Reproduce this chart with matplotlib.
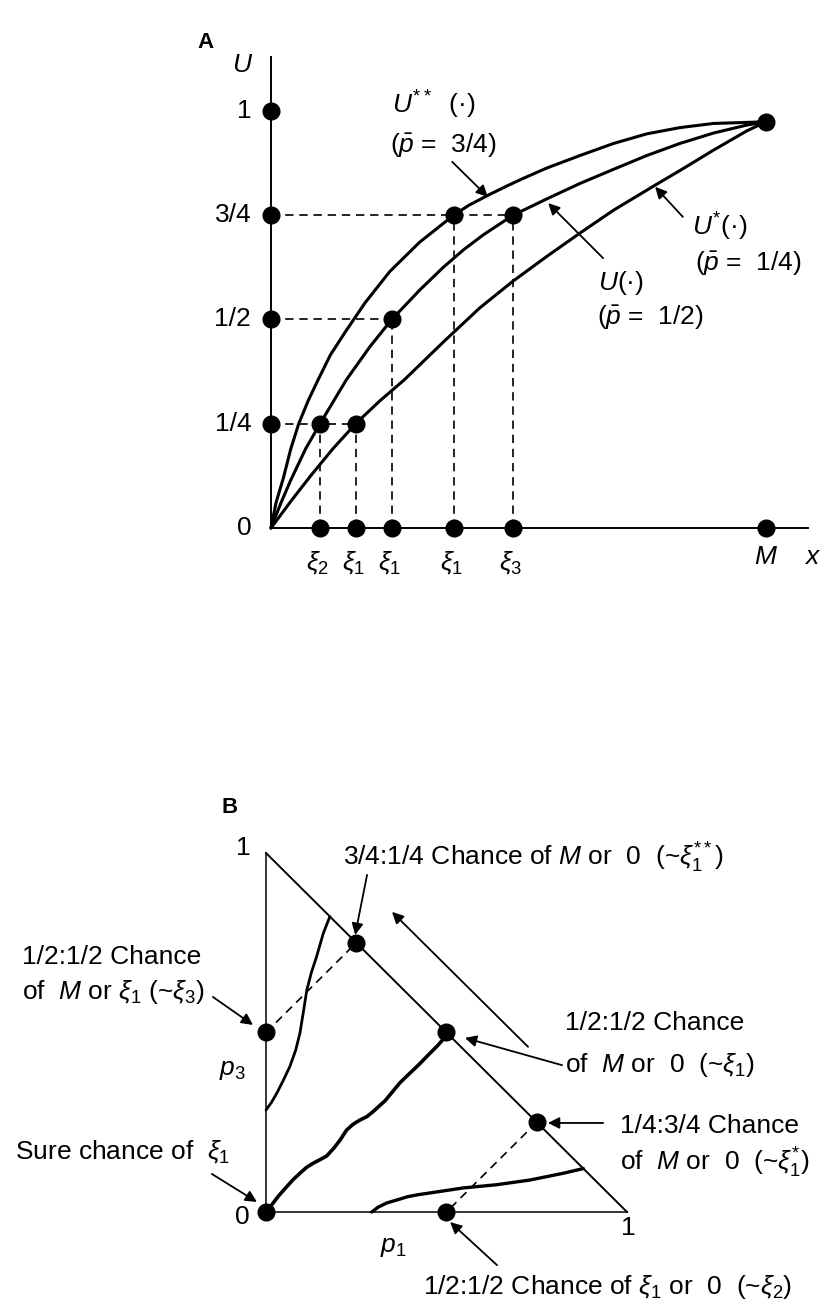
import numpy as np
import matplotlib.pyplot as plt

plt.rcParams['font.family'] = ['Liberation Sans', 'DejaVu Sans']
plt.rcParams['mathtext.fontset'] = 'custom'
plt.rcParams['mathtext.rm'] = 'Liberation Sans'
plt.rcParams['mathtext.it'] = 'Liberation Sans:italic'

# ---- panel A: utility curves, x in units of M ----
u_top_x = [0, 0.01, 0.025, 0.04, 0.056, 0.075, 0.095, 0.12, 0.15, 0.19, 0.24, 0.30, 0.369, 0.40, 0.442, 0.48, 0.509,
           0.557, 0.624, 0.692, 0.759, 0.826, 0.894, 1.0]
u_top_y = [0, 0.06, 0.12, 0.19, 0.25, 0.305, 0.355, 0.415, 0.47, 0.54, 0.615, 0.685, 0.75, 0.774, 0.80, 0.822, 0.838,
           0.863, 0.893, 0.922, 0.945, 0.96, 0.97, 0.974]

u_mid_x = [0, 0.02, 0.04, 0.07, 0.099, 0.152, 0.2, 0.244, 0.3, 0.348, 0.39, 0.429, 0.489, 0.557, 0.624, 0.692, 0.759,
           0.826, 0.894, 0.961, 1.0]
u_mid_y = [0, 0.06, 0.115, 0.19, 0.25, 0.355, 0.435, 0.5, 0.57, 0.625, 0.668, 0.703, 0.75, 0.789, 0.826, 0.86, 0.893,
           0.922, 0.947, 0.966, 0.974]

u_low_x = [0, 0.04, 0.08, 0.125, 0.171, 0.22, 0.269, 0.35, 0.422, 0.489, 0.557, 0.624, 0.692, 0.776, 0.826, 0.894,
           0.961, 1.0]
u_low_y = [0, 0.064, 0.125, 0.19, 0.25, 0.305, 0.355, 0.448, 0.528, 0.592, 0.651, 0.707, 0.762, 0.822, 0.857, 0.906,
           0.952, 0.974]

u_levels = [0.25, 0.5, 0.75, 1.0]
u_level_labels = ['1/4', '1/2', '3/4', '1']
# certainty equivalents: (x, U)
ce_x = [0.099, 0.171, 0.244, 0.369, 0.489]
ce_u = [0.25, 0.25, 0.5, 0.75, 0.75]
ce_labels = [r'$\xi_2$', r'$\xi_1$', r'$\xi_1$', r'$\xi_1$', r'$\xi_3$']
M_x, M_u = 1.0, 0.974

# ---- panel B: probability triangle (p1, p3) ----
ic_left_p1 = [0, 0.015, 0.03, 0.048, 0.066, 0.082, 0.094, 0.104, 0.113, 0.126, 0.14, 0.159, 0.177]
ic_left_p3 = [0.284, 0.305, 0.331, 0.367, 0.405, 0.45, 0.498, 0.56, 0.618, 0.668, 0.711, 0.777, 0.823]

ic_mid_p1 = [0, 0.016, 0.035, 0.057, 0.075, 0.094, 0.112, 0.131, 0.15, 0.168, 0.188, 0.205, 0.223, 0.242, 0.26,
             0.28, 0.297, 0.33, 0.371, 0.4, 0.427, 0.452, 0.473, 0.49, 0.5]
ic_mid_p3 = [0, 0.02, 0.045, 0.07, 0.09, 0.108, 0.124, 0.136, 0.146, 0.156, 0.178, 0.2, 0.228, 0.245, 0.256,
             0.266, 0.28, 0.31, 0.36, 0.388, 0.414, 0.44, 0.461, 0.48, 0.5]

ic_low_p1 = [0.293, 0.31, 0.334, 0.371, 0.39, 0.42, 0.454, 0.5, 0.546, 0.639, 0.731, 0.824, 0.879]
ic_low_p3 = [0, 0.013, 0.025, 0.036, 0.042, 0.048, 0.053, 0.06, 0.067, 0.076, 0.089, 0.108, 0.121]

lott_p1 = [0, 0, 0.25, 0.5, 0.75, 0.5]
lott_p3 = [0, 0.5, 0.75, 0.5, 0.25, 0]

fig = plt.figure(figsize=(8.24, 13.15), dpi=100)

# both panels span the whole canvas, limits chosen to place them
axA = fig.add_axes([0, 0, 1, 1])
axA.set_xlim(-0.5475, 1.1172)
axA.set_ylim(-1.887, 1.266)
axA.axis('off')

axB = fig.add_axes([0, 0, 1, 1])
axB.set_xlim(-0.7368, 1.5457)
axB.set_ylim(-0.2869, 3.376)
axB.axis('off')
axB.patch.set_alpha(0)

dot = dict(marker='o', ms=12, color='k', ls='none', zorder=5)
dash = dict(color='k', lw=1.2, ls=(0, (5, 3.5)))
arr = dict(arrowstyle='-|>', color='k', lw=1.3, mutation_scale=17, shrinkA=0, shrinkB=0)
curve = dict(color='k', solid_joinstyle='round', solid_capstyle='round')
fs = 19

# --- A ---
axA.plot([0, 0], [0, 1.13], color='k', lw=1.4)
axA.plot([0, 1.085], [0, 0], color='k', lw=1.4)
axA.plot(u_top_x, u_top_y, lw=2.2, **curve)
axA.plot(u_mid_x, u_mid_y, lw=2.2, **curve)
axA.plot(u_low_x, u_low_y, lw=2.2, **curve)

for lv in [0.25, 0.5, 0.75]:
    xs = [cx for cx, cu in zip(ce_x, ce_u) if cu == lv]
    axA.plot([0, max(xs)], [lv, lv], **dash)
for cx, cu in zip(ce_x, ce_u):
    axA.plot([cx, cx], [0, cu], **dash)

axA.plot([0] * len(u_levels), u_levels, **dot)
axA.plot(ce_x, ce_u, **dot)
axA.plot(ce_x, [0] * len(ce_x), **dot)
axA.plot([M_x, M_x], [0, M_u], **dot)

for lv, lab in zip(u_levels, u_level_labels):
    axA.text(-0.04, lv, lab, fontsize=fs, ha='right', va='center')
axA.text(-0.04, 0, '0', fontsize=fs, ha='right', va='center')
for cx, lab in zip(ce_x, ce_labels):
    axA.text(cx - 0.005, -0.085, lab, fontsize=fs, ha='center', va='center')
axA.text(1.0, -0.07, '$M$', fontsize=fs, ha='center', va='center')
axA.text(1.095, -0.07, '$x$', fontsize=fs, ha='center', va='center')
axA.text(-0.057, 1.11, '$U$', fontsize=fs, ha='center', va='center')
axA.text(-0.133, 1.165, 'A', fontsize=16, fontweight='bold', ha='center', va='center')

axA.text(0.244, 1.014, r'$U^{**}$  (·)', fontsize=fs, ha='left', va='center')
axA.text(0.240, 0.918, r'($\bar{p}$ =  3/4)', fontsize=fs, ha='left', va='center')
axA.annotate('', xy=(0.438, 0.794), xytext=(0.366, 0.878), arrowprops=arr)
axA.text(0.85, 0.722, r'$U^{*}$(·)', fontsize=fs, ha='left', va='center')
axA.text(0.857, 0.636, r'($\bar{p}$ =  1/4)', fontsize=fs, ha='left', va='center')
axA.annotate('', xy=(0.776, 0.818), xytext=(0.832, 0.746), arrowprops=arr)
axA.text(0.661, 0.588, r'$U$(·)', fontsize=fs, ha='left', va='center')
axA.text(0.659, 0.506, r'($\bar{p}$ =  1/2)', fontsize=fs, ha='left', va='center')
axA.annotate('', xy=(0.56, 0.779), xytext=(0.671, 0.647), arrowprops=arr)

# --- B ---
axB.plot([0, 0, 1], [1, 0, 0], color='k', lw=1.1)
axB.plot([0, 1], [1, 0], color='k', lw=1.4)
axB.plot(ic_left_p1, ic_left_p3, lw=2.0, **curve)
axB.plot(ic_mid_p1, ic_mid_p3, lw=2.6, **curve)
axB.plot(ic_low_p1, ic_low_p3, lw=2.4, **curve)
axB.plot(lott_p1[1:3], lott_p3[1:3], **dash)
axB.plot(lott_p1[4:6], lott_p3[4:6], **dash)
axB.plot(lott_p1, lott_p3, **dot)

axB.annotate('', xy=(0.349, 0.836), xytext=(0.726, 0.46), arrowprops=arr)

axB.text(-0.102, 1.128, 'B', fontsize=16, fontweight='bold', ha='center', va='center')
axB.text(-0.064, 1.014, '1', fontsize=fs, ha='center', va='center')
axB.text(-0.066, -0.014, '0', fontsize=fs, ha='center', va='center')
axB.text(1.003, -0.045, '1', fontsize=fs, ha='center', va='center')
axB.text(0.352, -0.097, '$p_1$', fontsize=fs, ha='center', va='center')
axB.text(-0.094, 0.396, '$p_3$', fontsize=fs, ha='center', va='center')

axB.text(0.213, 0.986, r'3/4:1/4 Chance of $M$ or  0  (~$\xi_1^{**}$)', fontsize=fs, ha='left', va='center')
axB.annotate('', xy=(0.247, 0.772), xytext=(0.28, 0.939), arrowprops=arr)
axB.text(-0.676, 0.710, '1/2:1/2 Chance', fontsize=fs, ha='left', va='center')
axB.text(-0.676, 0.613, r'of  $M$ or $\xi_1$ (~$\xi_3$)', fontsize=fs, ha='left', va='center')
axB.annotate('', xy=(-0.036, 0.521), xytext=(-0.147, 0.599), arrowprops=arr)
axB.text(-0.695, 0.167, r'Sure chance of  $\xi_1$', fontsize=fs, ha='left', va='center')
axB.annotate('', xy=(-0.025, 0.028), xytext=(-0.15, 0.106), arrowprops=arr)
axB.text(0.828, 0.526, '1/2:1/2 Chance', fontsize=fs, ha='left', va='center')
axB.text(0.828, 0.409, r'of  $M$ or  0  (~$\xi_1$)', fontsize=fs, ha='left', va='center')
axB.annotate('', xy=(0.551, 0.485), xytext=(0.82, 0.409), arrowprops=arr)
axB.text(0.981, 0.240, '1/4:3/4 Chance', fontsize=fs, ha='left', va='center')
axB.text(0.981, 0.136, r'of  $M$ or  0  (~$\xi_1^{*}$)', fontsize=fs, ha='left', va='center')
axB.annotate('', xy=(0.781, 0.248), xytext=(0.934, 0.248), arrowprops=arr)
axB.text(0.435, -0.209, r'1/2:1/2 Chance of $\xi_1$ or  0  (~$\xi_2$)', fontsize=fs, ha='left', va='center')
axB.annotate('', xy=(0.51, -0.028), xytext=(0.64, -0.148), arrowprops=arr)

fig.savefig('out.png', dpi=100, facecolor='white')
